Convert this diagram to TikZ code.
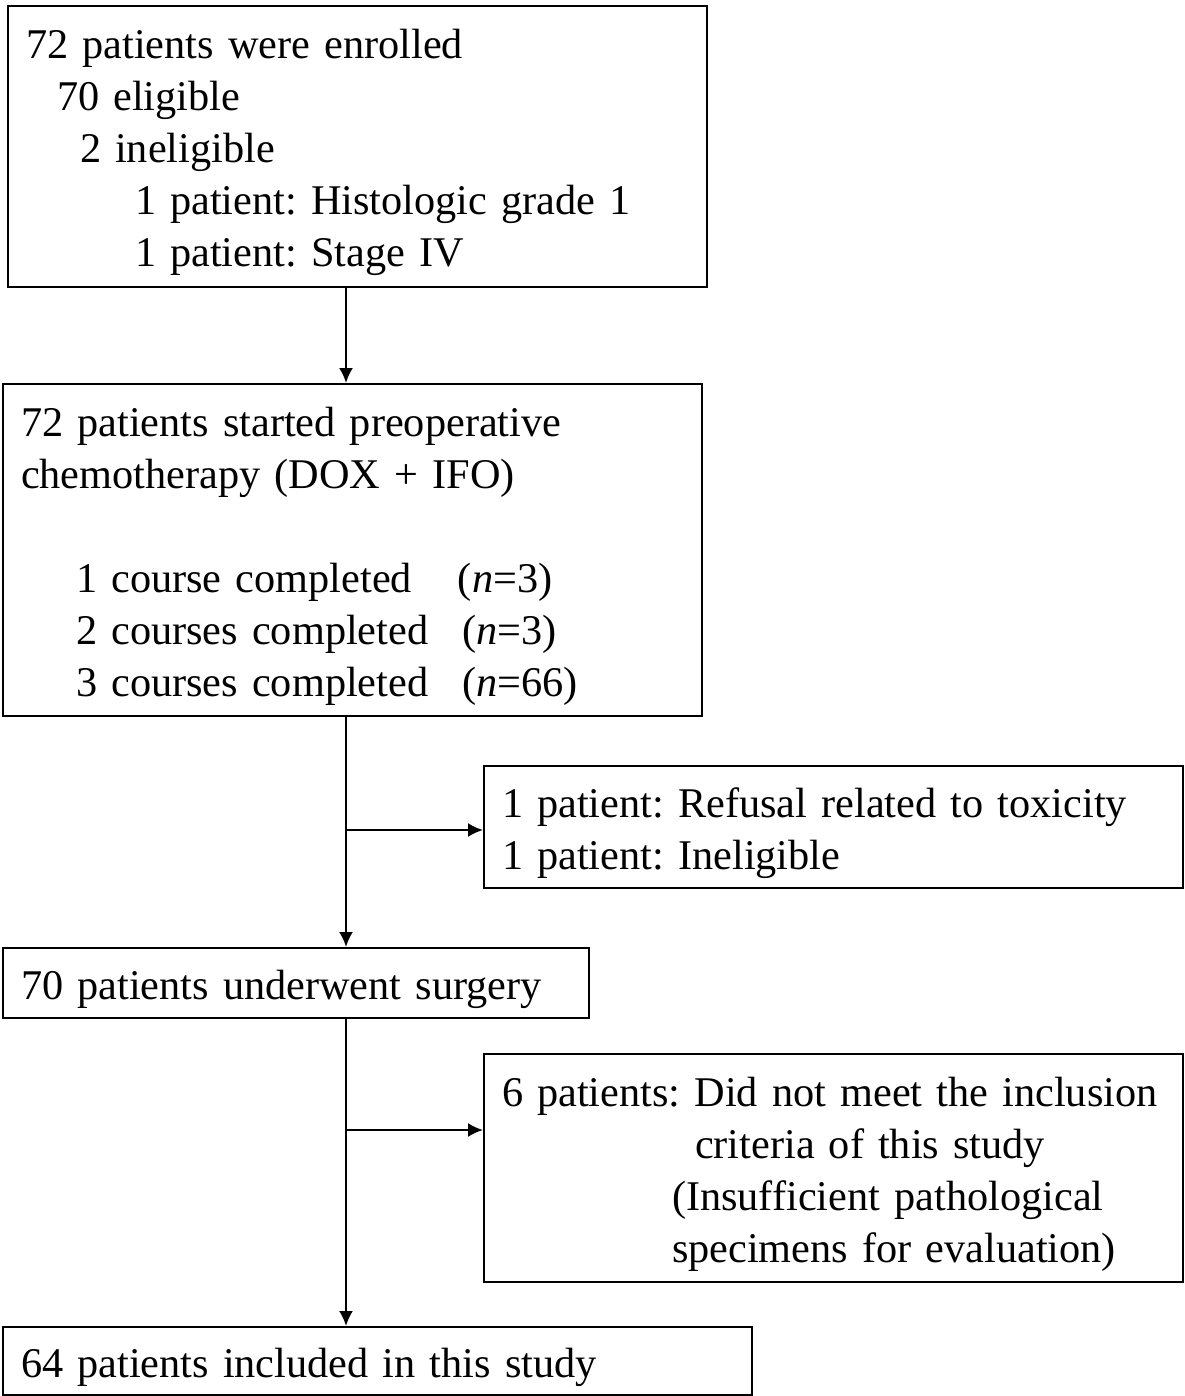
\documentclass[tikz,border=0pt]{standalone}
\usepackage{fontspec}
\setmainfont{Liberation Serif}
\usetikzlibrary{arrows.meta}
\frenchspacing
\hyphenpenalty=10000

\begin{document}
\begin{tikzpicture}[x=1pt,y=-1pt,
    box/.style={draw, line width=2pt, anchor=north west, align=left,
      inner xsep=18pt, inner ysep=0pt,
      font=\fontsize{42.3}{52}\selectfont,
      execute at begin node={\rule{0pt}{42pt}}},
    flow/.style={line width=2.2pt, -{Latex[length=15pt,width=14pt]}}]
    \useasboundingbox (0,0) rectangle (1184,1396);
    \node[box, text width=663pt, minimum height=281pt] (enrolled) at (7,5) {%
      72 patients were enrolled\\
      \hspace*{31pt}70 eligible\\
      \hspace*{54pt}2 ineligible\\
      \hspace*{109pt}1 patient: Histologic grade 1\\
      \hspace*{109pt}1 patient: Stage IV};
    \node[box, text width=663pt, minimum height=332pt] (chemo) at (2,383) {%
      72 patients started preoperative\\
      chemotherapy (DOX + IFO)\\[52pt]
      \hspace*{55pt}1 course completed\hspace{46pt}(\textit{n}=3)\\
      \hspace*{55pt}2 courses completed\hspace{34pt}(\textit{n}=3)\\
      \hspace*{55pt}3 courses completed\hspace{34pt}(\textit{n}=66)};
    \node[box, text width=663pt, minimum height=122pt] (refusal) at (483,765) {%
      1 patient: Refusal related to toxicity\\
      1 patient: Ineligible};
    \node[box, text width=550pt, minimum height=70pt] (surgery) at (2,947) {%
      70 patients underwent surgery};
    \node[box, text width=663pt, minimum height=228pt] (excluded) at (483,1053) {%
      6 patients: Did not meet the inclusion\\
      \hspace*{193pt}criteria of this study\\
      \hspace*{170pt}(Insufficient pathological\\
      \hspace*{170pt}specimens for evaluation)};
    \node[box, text width=713pt, minimum height=68pt] (included) at (2,1326) {%
      64 patients included in this study};

    \coordinate (spine) at (346,0);
    \coordinate (split1) at (346,830);
    \coordinate (split2) at (346,1130);
    \draw[flow] (enrolled.south -| spine) -- (chemo.north -| spine);
    \draw[flow] (chemo.south -| spine) -- (surgery.north -| spine);
    \draw[flow] (split1) -- (split1 -| refusal.west);
    \draw[flow] (surgery.south -| spine) -- (included.north -| spine);
    \draw[flow] (split2) -- (split2 -| excluded.west);
\end{tikzpicture}
\end{document}
